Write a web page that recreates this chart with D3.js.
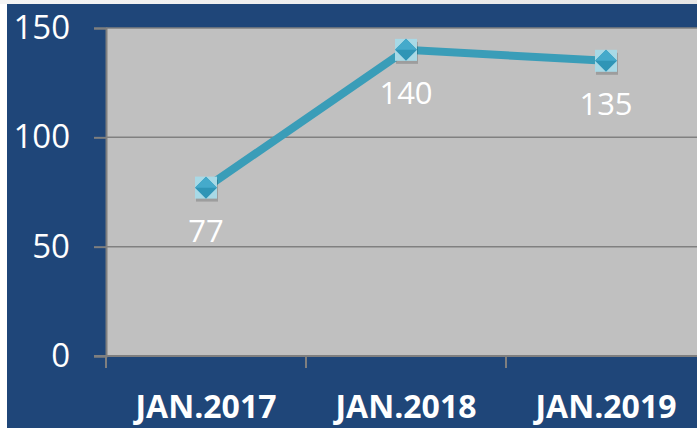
<!DOCTYPE html>
<html>
<head>
<meta charset="utf-8">
<script src="https://cdn.jsdelivr.net/npm/d3@7"></script>
<style>
  body { margin: 0; background: #fff; }
  svg { display: block; }
</style>
</head>
<body>
<div id="chart"></div>
<script>
// data
const categories = ['JAN.2017', 'JAN.2018', 'JAN.2019']
const values = [77, 140, 135]
const yTicks = [0, 50, 100, 150]

const W = 697, H = 428
const plot = { left: 106, right: 706, top: 28, bottom: 356 }

const svg = d3.select('#chart')
              .append('svg')
              .attr('width', W)
              .attr('height', H)

// white strip + blue background
const topGrad = svg.append('defs').append('linearGradient')
                   .attr('id', 'topg').attr('x1', 0).attr('x2', 1)
topGrad.append('stop').attr('offset', '0%').attr('stop-color', '#f4f4f4')
topGrad.append('stop').attr('offset', '100%').attr('stop-color', '#e6e6e6')
svg.append('rect').attr('x', 0).attr('y', 0).attr('width', W).attr('height', 4).attr('fill', 'url(#topg)')
svg.append('rect')
   .attr('x', 7).attr('y', 4)
   .attr('width', W - 7).attr('height', H - 4)
   .attr('fill', '#1f4679')

// scales
const x = d3.scaleBand()
            .domain(categories)
            .range([plot.left, plot.right])
            .padding(0)

const y = d3.scaleLinear()
            .domain([0, 150])
            .range([plot.bottom, plot.top])

// plot area
svg.append('rect')
   .attr('x', plot.left).attr('y', plot.top)
   .attr('width', plot.right - plot.left)
   .attr('height', plot.bottom - plot.top)
   .attr('fill', '#c0c0c0')

// gridlines
svg.selectAll('line.grid').data(yTicks.slice(1))
   .enter().append('line')
   .attr('class', 'grid')
   .attr('x1', plot.left).attr('x2', plot.right)
   .attr('y1', d => y(d)).attr('y2', d => y(d))
   .attr('stroke', '#808080').attr('stroke-width', 1.5)

// y axis
const yAxis = svg.append('g')
   .attr('transform', `translate(${plot.left},0)`)
   .call(d3.axisLeft(y).tickValues(yTicks).tickSize(12).tickPadding(24))
yAxis.select('.domain').attr('stroke', '#7f7f7f').attr('stroke-width', 2)
yAxis.selectAll('.tick line').attr('stroke', '#7f7f7f').attr('stroke-width', 2)
yAxis.selectAll('.tick text')
     .attr('fill', '#fff')
     .attr('font-family', 'Open Sans')
     .attr('font-size', 33)

// x axis
const xEdges = categories.map(c => x(c)).concat([plot.right])
const xAxis = svg.append('g')
xAxis.append('line')
     .attr('x1', plot.left - 12).attr('x2', plot.right)
     .attr('y1', plot.bottom).attr('y2', plot.bottom)
     .attr('stroke', '#7f7f7f').attr('stroke-width', 2)
xAxis.selectAll('line.xt').data(xEdges)
     .enter().append('line')
     .attr('class', 'xt')
     .attr('x1', d => d).attr('x2', d => d)
     .attr('y1', plot.bottom).attr('y2', plot.bottom + 12)
     .attr('stroke', '#7f7f7f').attr('stroke-width', 2)
xAxis.selectAll('text').data(categories)
     .enter().append('text')
     .attr('x', d => x(d) + x.bandwidth() / 2)
     .attr('y', 418)
     .attr('text-anchor', 'middle')
     .attr('fill', '#fff')
     .attr('font-family', 'Open Sans')
     .attr('font-weight', 'bold')
     .attr('font-size', 32)
     .text(d => d)

// line
const pts = categories.map((c, i) => ({ c, v: values[i] }))
const cx = d => x(d.c) + x.bandwidth() / 2
svg.append('path')
   .datum(pts)
   .attr('d', d3.line().x(cx).y(d => y(d.v)))
   .attr('fill', 'none')
   .attr('stroke', '#3a9db8')
   .attr('stroke-width', 8)

// markers
const m = svg.selectAll('g.marker').data(pts)
             .enter().append('g')
             .attr('transform', d => `translate(${cx(d)},${y(d.v)})`)
m.append('rect')
 .attr('x', -10).attr('y', -8).attr('width', 22).attr('height', 22)
 .attr('fill', 'rgba(0,0,0,0.18)')
m.append('rect')
 .attr('x', -11).attr('y', -11).attr('width', 22).attr('height', 22)
 .attr('fill', '#a8d9e6')
m.append('path')
 .attr('d', 'M0,-11 L11,0 L0,11 L-11,0 Z')
 .attr('fill', '#2f95b6')
m.append('path')
 .attr('d', 'M0,-11 L11,0 L-11,0 Z')
 .attr('fill', '#45aacb')

// data labels
svg.selectAll('text.lbl').data(pts)
   .enter().append('text')
   .attr('class', 'lbl')
   .attr('x', cx)
   .attr('y', d => y(d.v) + 54)
   .attr('text-anchor', 'middle')
   .attr('fill', '#fff')
   .attr('font-family', 'Open Sans')
   .attr('font-size', 31)
   .text(d => d.v)
</script>
</body>
</html>
